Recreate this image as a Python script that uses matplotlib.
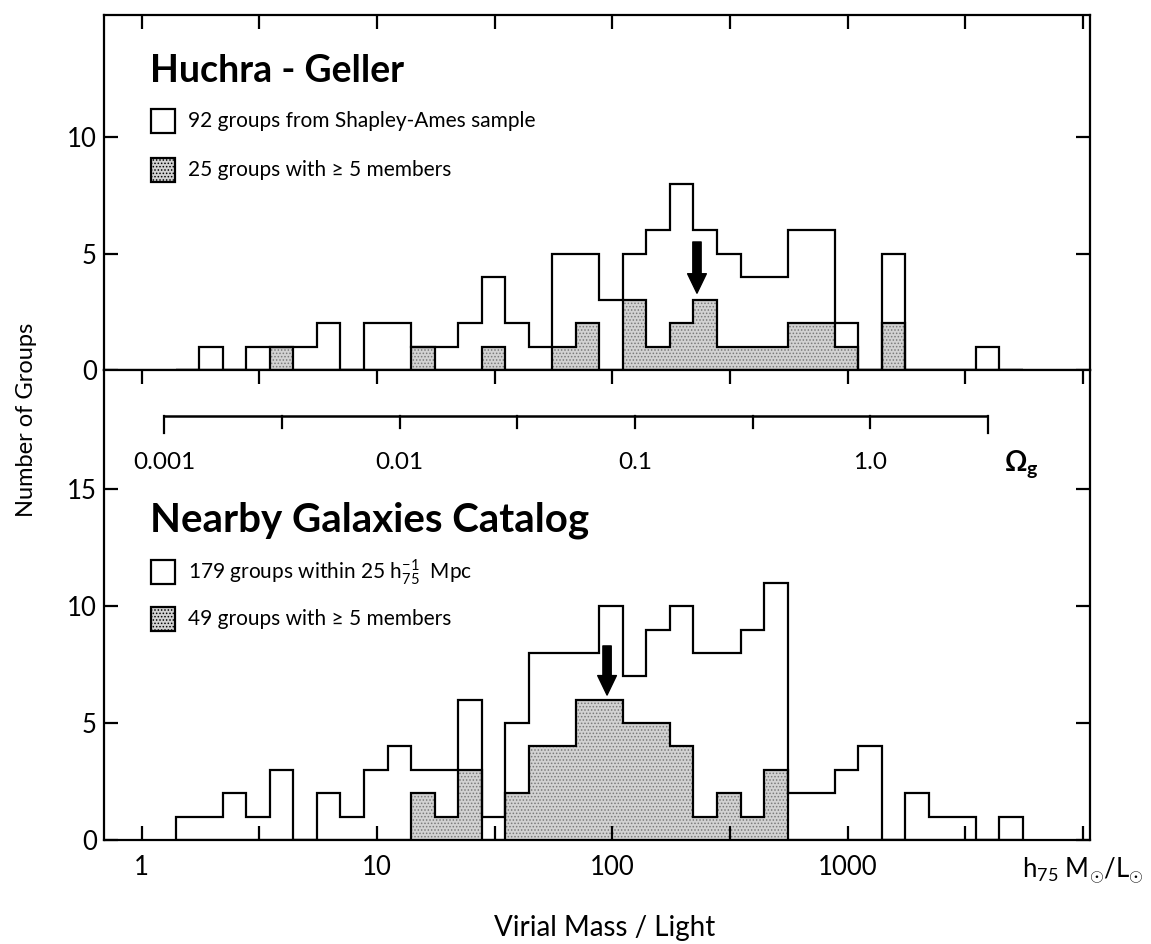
"""
Virial mass-to-light histograms: Huchra-Geller groups (top) and
Nearby Galaxies Catalog groups (bottom), with the Omega_g scale.
"""
import numpy as np
import matplotlib
matplotlib.use("Agg")
import matplotlib.pyplot as plt
from matplotlib.patches import Rectangle

plt.rcParams['font.family'] = ['Lato', 'DejaVu Sans']
plt.rcParams['mathtext.fontset'] = 'custom'
plt.rcParams['mathtext.rm'] = 'Lato'
plt.rcParams['mathtext.bf'] = 'Lato:bold'
plt.rcParams['hatch.linewidth'] = 0.7
plt.rcParams['hatch.color'] = '#7a7a7a'

# bins are 0.1 dex wide in log10(M/L); lower edge of the first bin
first_edge = 0.145
bin_dex = 0.1

# top panel: Huchra-Geller
hg_all = [0, 1, 0, 1, 1, 1, 2, 0, 2, 2, 1, 1, 2, 4, 2, 1, 5, 5, 3, 5,
          6, 8, 6, 5, 4, 4, 6, 6, 2, 0, 5, 0, 0, 0, 1, 0]
hg_rich = [0, 0, 0, 0, 1, 0, 0, 0, 0, 0, 1, 0, 0, 1, 0, 0, 1, 2, 0, 3,
           1, 2, 3, 1, 1, 1, 2, 2, 1, 0, 2, 0, 0, 0, 0, 0]

# bottom panel: Nearby Galaxies Catalog
ngc_all = [1, 1, 2, 1, 3, 0, 2, 1, 3, 4, 3, 3, 6, 1, 5, 8, 8, 8, 10, 7,
           9, 10, 8, 8, 9, 11, 2, 2, 3, 4, 0, 2, 1, 1, 0, 1]
ngc_rich = [0, 0, 0, 0, 0, 0, 0, 0, 0, 0, 2, 1, 3, 0, 2, 4, 4, 6, 6, 5,
            5, 4, 1, 2, 1, 3, 0, 0, 0, 0, 0, 0, 0, 0, 0, 0]

# median arrows (M/L, y tail, y tip)
hg_arrow = (229, 5.5, 3.3)
ngc_arrow = (95, 8.3, 6.2)

# Omega_g scale
omega_ticks = [0.001, 0.00316, 0.01, 0.0316, 0.1, 0.316, 1.0, 3.16]
omega_labels = {0.001: '0.001', 0.01: '0.01', 0.1: '0.1', 1.0: '1.0'}
omega_to_ml = 1250.0

x_ticks = [1, 3.16, 10, 31.6, 100, 316, 1000, 3160, 10000]
x_labels = ['1', '', '10', '', '100', '', '1000', '',
            r'h$_{75}$ M$_{\odot}$/L$_{\odot}$']

W, H = 1151, 944
GREY = '#d2d2d2'
fill_kw = dict(facecolor=GREY, hatch='.....', linewidth=0)


def fx(px):
    return px / W


def fy(py):
    return 1 - py / H


def histo(ax, total, rich):
    edges = 10 ** (first_edge + bin_dex * np.arange(len(total) + 1))
    ax.stairs(rich, edges, fill=True, zorder=1, **fill_kw)
    ax.stairs(rich, edges, color='k', lw=1.6, zorder=2)
    ax.stairs(total, edges, color='k', lw=1.6, zorder=2)


def arrow(ax, spec):
    x, y0, y1 = spec
    ax.annotate('', xy=(x, y1), xytext=(x, y0),
                arrowprops=dict(arrowstyle='simple,head_length=1.4,'
                                'head_width=1.35,tail_width=0.6',
                                color='k', shrinkA=0, shrinkB=0,
                                mutation_scale=10), zorder=5)


fig = plt.figure(figsize=(W / 100, H / 100), dpi=100)
ax_top = fig.add_axes([fx(104), fy(370), fx(1090) - fx(104), fy(15) - fy(370)])
ax_bot = fig.add_axes([fx(104), fy(840), fx(1090) - fx(104), fy(370) - fy(840)])

for ax in (ax_top, ax_bot):
    ax.set_xscale('log')
    ax.set_xlim(10 ** -0.16, 10 ** 4.03)
    ax.set_xticks(x_ticks)
    ax.minorticks_off()
    for s in ax.spines.values():
        s.set_linewidth(1.6)
    ax.tick_params(axis='both', direction='in', length=10, width=1.6,
                   labelsize=18.5, pad=5)

histo(ax_top, hg_all, hg_rich)
histo(ax_bot, ngc_all, ngc_rich)
arrow(ax_top, hg_arrow)
arrow(ax_bot, ngc_arrow)

# top panel
ax_top.set_ylim(0, 15.25)
ax_top.set_yticks([0, 5, 10])
ax_top.tick_params(axis='x', bottom=False, top=True, labelbottom=False)
ax_top.tick_params(axis='y', left=True, right=True)

# bottom panel
ax_bot.set_ylim(0, 20.1)
ax_bot.set_yticks([0, 5, 10, 15])
ax_bot.set_xticklabels(x_labels)
ax_bot.tick_params(axis='x', bottom=True, top=True, pad=11)
ax_bot.tick_params(axis='y', left=True, right=True)

# Omega_g scale inside the bottom panel
oy = 18.15
ox = [o * omega_to_ml for o in omega_ticks]
ax_bot.plot([ox[0], ox[-1]], [oy, oy], color='k', lw=1.8, solid_capstyle='butt')
for o, xx in zip(omega_ticks, ox):
    end = o in (omega_ticks[0], omega_ticks[-1])
    ax_bot.plot([xx, xx], [oy, oy - (0.75 if end else 0.55)], color='k', lw=1.6)
    if o in omega_labels:
        ax_bot.text(xx, 16.15, omega_labels[o], ha='center', va='center', fontsize=17.5)
ax_bot.text(10 ** 3.74, 16.1, r'$\mathbf{\Omega_g}$', ha='center', va='center',
            fontsize=20)

# titles and keys
fig.text(fx(150), fy(71), 'Huchra - Geller', fontsize=27, fontweight='bold',
         va='center')
fig.text(fx(150), fy(520), 'Nearby Galaxies Catalog', fontsize=29,
         fontweight='bold', va='center')

keys = [(121, '92 groups from Shapley-Ames sample', False),
        (170, '25 groups with \u2265 5 members', True),
        (572, r'179 groups within 25 h$^{-1}_{75}$  Mpc', False),
        (619, '49 groups with \u2265 5 members', True)]
for yc, label, rich in keys:
    box = Rectangle((fx(151), fy(yc + 12)), fx(24), fy(0) - fy(24),
                    transform=fig.transFigure, edgecolor='k', lw=1.6,
                    facecolor=GREY if rich else 'white',
                    hatch='.....' if rich else None)
    fig.add_artist(box)
    fig.text(fx(188), fy(yc), label, fontsize=15, va='center')

fig.text(fx(27), fy(420), 'Number of Groups', rotation=90, fontsize=17,
         ha='center', va='center')
fig.text(fx(605), fy(928), 'Virial Mass / Light', fontsize=20,
         ha='center', va='center')

fig.savefig('out.png', dpi=100, facecolor='white')
